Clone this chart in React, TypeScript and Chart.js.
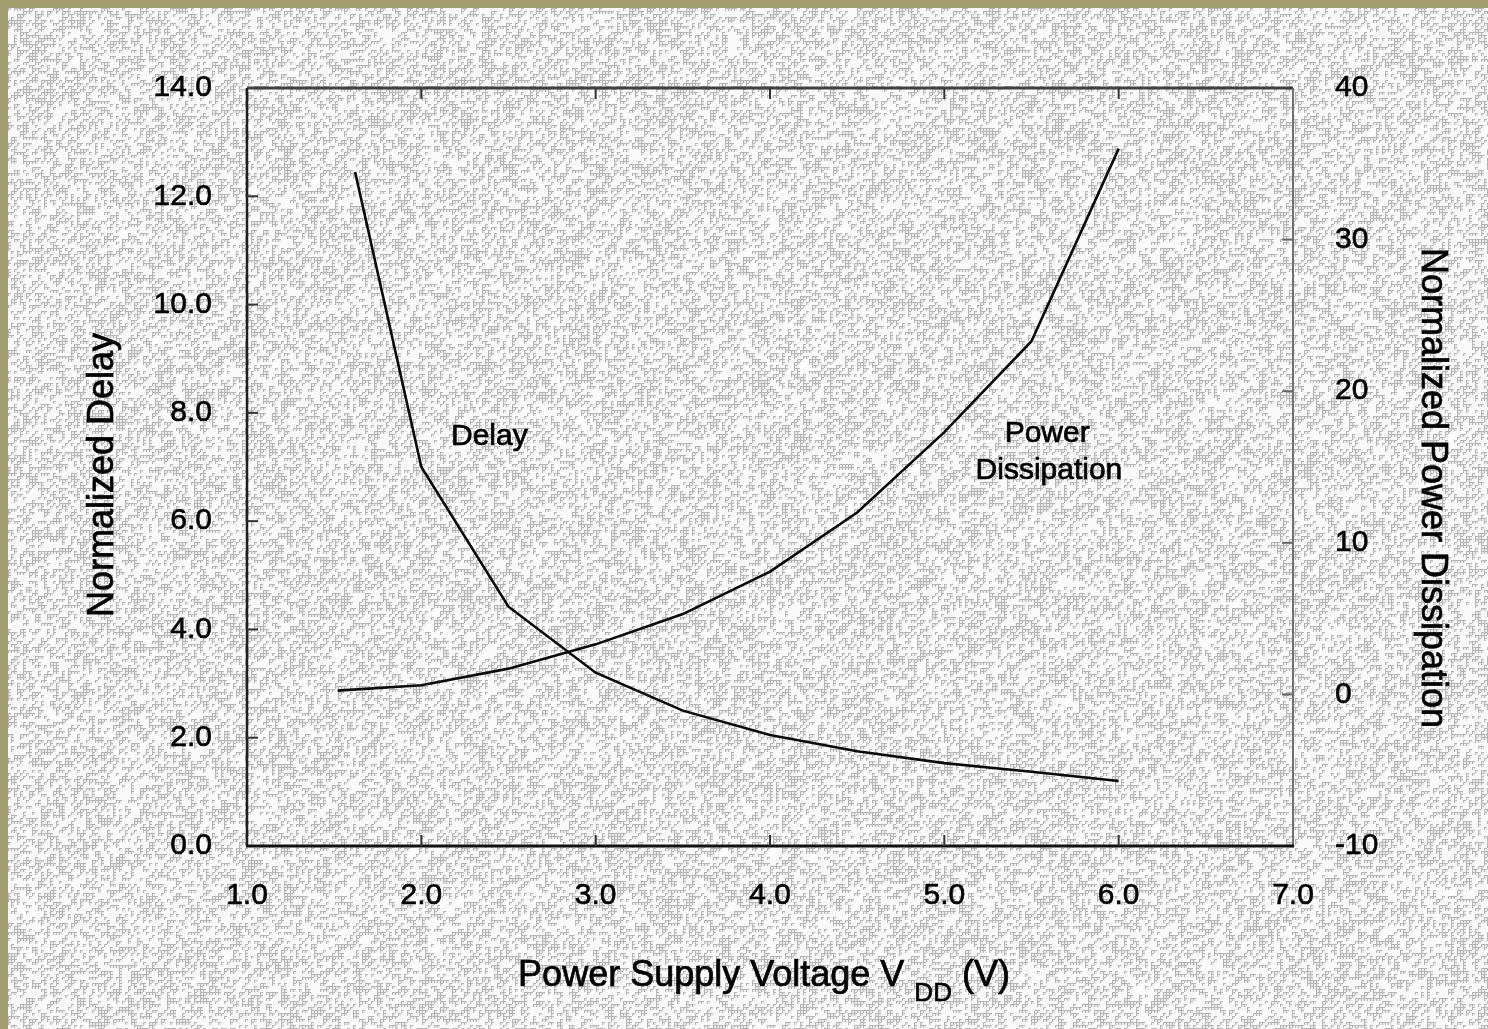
import React, { useEffect, useRef } from "react";
import { Chart, registerables } from "chart.js";

Chart.register(...registerables);

// ---- data ----
const voltageTicks = [1, 2, 3, 4, 5, 6, 7];
const delayTicks = [0, 2, 4, 6, 8, 10, 12, 14];
const powerTicks = [-10, 0, 10, 20, 30, 40];

const delayVoltage = [1.62, 2.0, 2.5, 3.0, 3.5, 4.0, 4.5, 5.0, 5.5, 6.0];
const delayValues = [12.45, 7.0, 4.42, 3.2, 2.5, 2.05, 1.75, 1.53, 1.37, 1.2];

const powerVoltage = [1.52, 2.0, 2.5, 3.0, 3.5, 4.0, 4.5, 5.0, 5.5, 6.0];
const powerValues = [0.25, 0.6, 1.7, 3.3, 5.3, 8.1, 12.0, 17.3, 23.3, 36.0];

const xTitle = "Power Supply Voltage V";
const xTitleSub = "DD";
const xTitleUnit = " (V)";
const yLeftTitle = "Normalized Delay";
const yRightTitle = "Normalized Power Dissipation";
const delayLabel = "Delay";
const powerLabelLines = ["Power", "Dissipation"];

const W = 1488;
const H = 1029;
const FONT = "'Liberation Sans', Arial, Helvetica, sans-serif";

function hash(x: number, y: number): number {
  let h = (Math.imul(x, 374761393) + Math.imul(y, 668265263)) | 0;
  h = Math.imul(h ^ (h >>> 13), 1274126177);
  h = h ^ (h >>> 16);
  return (h >>> 0) / 4294967296;
}

let textureCanvas: HTMLCanvasElement | null = null;
function getTexture(): HTMLCanvasElement {
  if (textureCanvas) return textureCanvas;
  const c = document.createElement("canvas");
  c.width = W;
  c.height = H;
  const ctx = c.getContext("2d")!;
  const img = ctx.createImageData(W, H);
  const d = img.data;
  for (let y = 0; y < H; y++) {
    for (let x = 0; x < W; x++) {
      const cx = Math.floor(x / 3);
      const cy = Math.floor(y / 3);
      const on = hash(cx, cy) < 0.45;
      const edge = x % 3 === 0 || y % 3 === 0;
      let v = 250;
      if (on && edge) v = 182;
      else if (on) v = 236;
      const i = (y * W + x) * 4;
      d[i] = v;
      d[i + 1] = v;
      d[i + 2] = v;
      d[i + 3] = 255;
    }
  }
  ctx.putImageData(img, 0, 0);
  textureCanvas = c;
  return c;
}

function boldText(ctx: CanvasRenderingContext2D, t: string, x: number, y: number) {
  ctx.fillText(t, x, y);
  ctx.strokeText(t, x, y);
}

const decorPlugin = {
  id: "decor",
  beforeDraw(chart: any) {
    const ctx = chart.ctx as CanvasRenderingContext2D;
    ctx.save();
    ctx.fillStyle = "#a49f6f";
    ctx.fillRect(0, 0, W, H);
    ctx.drawImage(getTexture(), 0, 0, W - 8, H - 8, 8, 8, W - 8, H - 8);
    ctx.restore();
  },
  afterDraw(chart: any) {
    const ctx = chart.ctx as CanvasRenderingContext2D;
    const a = chart.chartArea;
    const xs = chart.scales.x;
    const yl = chart.scales.y;
    const yr = chart.scales.y1;
    ctx.save();
    // frame
    ctx.lineCap = "butt";
    ctx.strokeStyle = "#404040";
    ctx.lineWidth = 3;
    ctx.beginPath();
    ctx.moveTo(a.left, a.top);
    ctx.lineTo(a.right, a.top);
    ctx.stroke();
    ctx.strokeStyle = "#707070";
    ctx.lineWidth = 2;
    ctx.beginPath();
    ctx.moveTo(a.right, a.top);
    ctx.lineTo(a.right, a.bottom);
    ctx.stroke();
    ctx.strokeStyle = "#1e1e1e";
    ctx.lineWidth = 2.5;
    ctx.beginPath();
    ctx.moveTo(a.left, a.top);
    ctx.lineTo(a.left, a.bottom);
    ctx.stroke();
    ctx.strokeStyle = "#111";
    ctx.lineWidth = 3;
    ctx.beginPath();
    ctx.moveTo(a.left - 1, a.bottom);
    ctx.lineTo(a.right + 1, a.bottom);
    ctx.stroke();

    // inward ticks
    ctx.strokeStyle = "#333";
    ctx.lineWidth = 2;
    const tl = 11;
    voltageTicks.slice(1, -1).forEach((v) => {
      const px = xs.getPixelForValue(v);
      ctx.beginPath();
      ctx.moveTo(px, a.bottom);
      ctx.lineTo(px, a.bottom - tl);
      ctx.moveTo(px, a.top);
      ctx.lineTo(px, a.top + tl);
      ctx.stroke();
    });
    delayTicks.slice(1, -1).forEach((v) => {
      const py = yl.getPixelForValue(v);
      ctx.beginPath();
      ctx.moveTo(a.left, py);
      ctx.lineTo(a.left + tl, py);
      ctx.stroke();
    });
    ctx.strokeStyle = "#666";
    powerTicks.slice(1, -1).forEach((v) => {
      const py = yr.getPixelForValue(v);
      ctx.beginPath();
      ctx.moveTo(a.right, py);
      ctx.lineTo(a.right - tl, py);
      ctx.stroke();
    });

    // in-plot labels
    ctx.fillStyle = "#000";
    ctx.strokeStyle = "#000";
    ctx.lineWidth = 0.7;
    ctx.textAlign = "center";
    ctx.textBaseline = "middle";
    ctx.font = `30px ${FONT}`;
    boldText(ctx, delayLabel, xs.getPixelForValue(2.39), yl.getPixelForValue(7.55));
    boldText(ctx, powerLabelLines[0], xs.getPixelForValue(5.59), yl.getPixelForValue(7.62));
    boldText(ctx, powerLabelLines[1], xs.getPixelForValue(5.6), yl.getPixelForValue(6.93));

    // axis titles
    ctx.font = `36px ${FONT}`;
    ctx.save();
    ctx.translate(103, (a.top + a.bottom) / 2 + 8);
    ctx.rotate(-Math.PI / 2);
    boldText(ctx, yLeftTitle, 0, 0);
    ctx.restore();

    ctx.save();
    ctx.translate(1432, (a.top + a.bottom) / 2 + 21);
    ctx.rotate(Math.PI / 2);
    boldText(ctx, yRightTitle, 0, 0);
    ctx.restore();

    // bottom title with subscript
    ctx.textAlign = "left";
    ctx.textBaseline = "alphabetic";
    const mainFont = `36px ${FONT}`;
    const subFont = `26px ${FONT}`;
    ctx.font = mainFont;
    const w1 = ctx.measureText(xTitle + " ").width;
    const w3 = ctx.measureText(xTitleUnit).width;
    ctx.font = subFont;
    const w2 = ctx.measureText(xTitleSub).width;
    const total = w1 + w2 + w3;
    const startX = 764 - total / 2;
    const base = 986;
    ctx.font = mainFont;
    boldText(ctx, xTitle + " ", startX, base);
    ctx.font = subFont;
    boldText(ctx, xTitleSub, startX + w1, base + 15);
    ctx.font = mainFont;
    boldText(ctx, xTitleUnit, startX + w1 + w2, base);
    ctx.restore();
  },
};

export default function App() {
  const ref = useRef<HTMLCanvasElement | null>(null);
  useEffect(() => {
    if (!ref.current) return;
    const tickFont = { family: FONT, size: 30 };
    const tickCommon = {
      font: tickFont,
      color: "#000",
      textStrokeColor: "#000",
      textStrokeWidth: 0.6,
    };
    const chart = new Chart(ref.current, {
      type: "line",
      data: {
        datasets: [
          {
            label: "Delay",
            data: delayVoltage.map((x, i) => ({ x, y: delayValues[i] })),
            yAxisID: "y",
            borderColor: "#0a0a0a",
            borderWidth: 2.6,
            pointRadius: 0,
            tension: 0,
            fill: false,
          },
          {
            label: "Power Dissipation",
            data: powerVoltage.map((x, i) => ({ x, y: powerValues[i] })),
            yAxisID: "y1",
            borderColor: "#0a0a0a",
            borderWidth: 2.6,
            pointRadius: 0,
            tension: 0,
            fill: false,
          },
        ],
      },
      options: {
        animation: false,
        responsive: false,
        devicePixelRatio: 1,
        layout: { padding: { top: 88, left: 0, right: 0, bottom: 0 } },
        plugins: { legend: { display: false }, tooltip: { enabled: false } },
        scales: {
          x: {
            type: "linear",
            min: 1,
            max: 7,
            afterBuildTicks: (s: any) => {
              s.ticks = voltageTicks.map((v) => ({ value: v }));
            },
            ticks: {
              ...tickCommon,
              callback: (v: any) => Number(v).toFixed(1),
              padding: 32,
              maxRotation: 0,
            },
            grid: { display: false, drawTicks: false },
            border: { display: false },
            afterFit: (s: any) => {
              s.height = 183;
            },
          },
          y: {
            type: "linear",
            position: "left",
            min: 0,
            max: 14,
            afterBuildTicks: (s: any) => {
              s.ticks = delayTicks.map((v) => ({ value: v }));
            },
            ticks: {
              ...tickCommon,
              callback: (v: any) => Number(v).toFixed(1),
              padding: 35,
            },
            grid: { display: false, drawTicks: false },
            border: { display: false },
            afterFit: (s: any) => {
              s.width = 247;
            },
          },
          y1: {
            type: "linear",
            position: "right",
            min: -10,
            max: 40,
            afterBuildTicks: (s: any) => {
              s.ticks = powerTicks.map((v) => ({ value: v }));
            },
            ticks: {
              ...tickCommon,
              callback: (v: any) => String(v),
              padding: 42,
            },
            grid: { display: false, drawTicks: false },
            border: { display: false },
            afterFit: (s: any) => {
              s.width = W - 1293;
            },
          },
        },
      },
      plugins: [decorPlugin],
    } as any);
    return () => chart.destroy();
  }, []);
  return (
    <canvas
      ref={ref}
      width={W}
      height={H}
      style={{ position: "fixed", left: 0, top: 0, width: W, height: H, display: "block" }}
    />
  );
}
